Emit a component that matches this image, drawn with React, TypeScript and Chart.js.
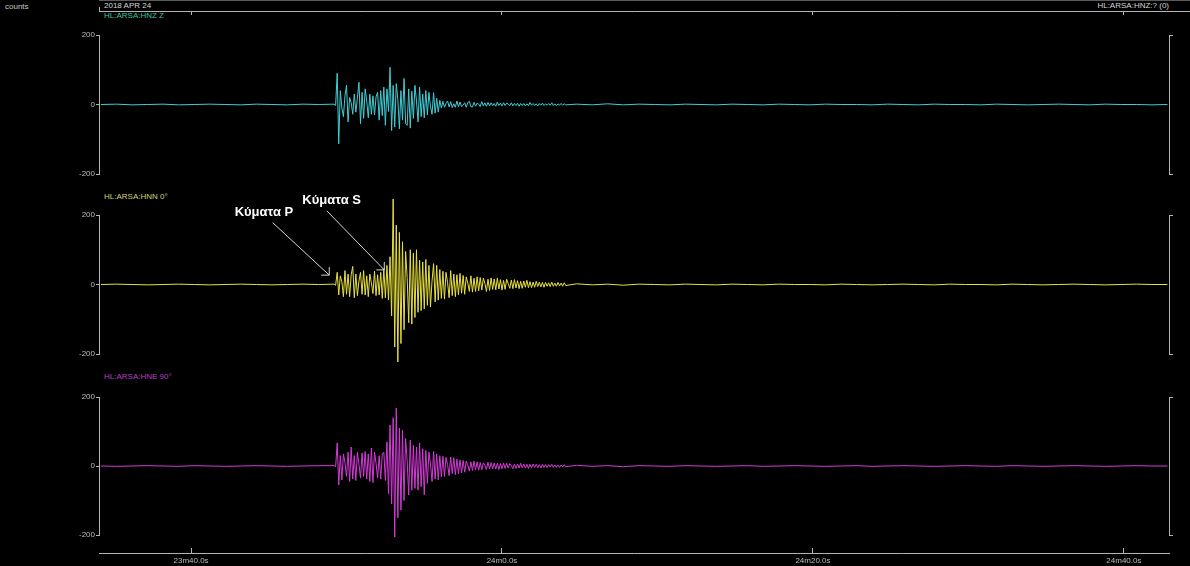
import React, { useEffect, useRef } from "react";
import { Chart, registerables } from "chart.js";

Chart.register(...registerables);

// ---- time axis (seconds after 23m00s) ----
const TIME_TICKS = [40, 60, 80, 100];
const X_MIN = 34.08;
const X_MAX = 102.9;

// ---- amplitude axis (counts) ----
const AMP_TICKS = [-200, 0, 200];
const BRACKET_TICKS = [-200, 200];

// ---- sampling of the hand-read traces ----
const PRE_START = 34.2;
const PRE_STEP = 1.0;
const EVENT_START = 49.2;
const EVENT_STEP = 0.1;
const POST_START = 64.8;
const POST_STEP = 1.0;

// ---- HL:ARSA:HNZ (vertical) ----
const HNZ_PRE = [0, 1, -1, 0, 1, -1, 0, 1, 0, -1, 1, 0, -1, 1, 0];
const HNZ_EVENT = [
  1, -3, 90, -113, 40, -10, -35, 25, 55, -50,
  20, 5, -28, 30, -22, 18, 64, -55, 35, -40,
  45, 10, -38, 30, -28, 25, -30, 22, 35, -45,
  40, -32, 50, -60, 45, -20, 107, -75, 55, -65,
  60, 15, -70, 40, -45, 75, -55, -60, 45, -68,
  38, -40, 55, 10, -50, 50, -35, 30, -38, 40,
  -30, 35, -5, -28, 34, -25, 18, -22, 12, -10,
  9, -8, 3, 10, -7, 8, -9, 2, -8, 10,
  -6, 7, -6, -2, 5, -8, 6, 9, -6, -7,
  6, -5, 4, 1, -6, 8, -4, 5, -5, 6,
  -4, 5, -4, 3, -5, 7, -3, 4, -4, 5,
  -3, 4, 1, -3, 5, -4, 3, -3, 4, -5,
  3, -3, 3, -4, 2, -3, 6, -2, 3, -3,
  2, -4, 3, -2, 4, -3, 2, -2, 3, -2,
  5, -3, 2, -3, 2, -2, 3, -2, 2, -1,
];
const HNZ_POST = [
  1, -1, 2, -1, 1, 0, -1, 1, 0, -1, 1, 0, -1, 1, 0, -1, 1, 0, 0, -1,
  1, 0, -1, 1, 0, 0, -1, 1, 0, -1, 0, 1, 0, -1, 1, 0, 0, -1, 0,
];

// ---- HL:ARSA:HNN 0° (north) ----
const HNN_PRE = [0, 1, 0, -1, 0, 1, 0, -1, 0, 1, 0, -1, 0, 1, 0];
const HNN_EVENT = [
  1, -2, 35, -30, 25, 8, -35, 40, -28, 30,
  -35, 28, 52, -38, 30, -32, 10, 35, -28, 40,
  -30, 25, -35, 30, 5, -26, 38, -32, 28, -30,
  35, -40, 45, -38, 55, -45, 80, -90, 246, -180,
  171, -223, 150, -170, 123, -130, 95, 20, -110, 100,
  -114, 90, -95, 100, -80, 70, -75, 65, -70, 72,
  -60, 55, -65, 10, 60, -50, 55, -45, 43, -40,
  38, -42, 35, 5, -38, 40, -32, 30, -35, 28,
  -30, 32, -25, 26, -28, 22, 4, -20, 25, -22,
  18, -20, 22, -18, 20, -16, 18, 3, -20, 15,
  -17, 19, -14, 16, -15, 18, -13, 14, -16, 12,
  -14, 15, 2, -11, 13, -12, 14, -10, 11, -12,
  9, -11, 10, -8, 12, -9, 8, -9, 7, -8,
  9, -6, 7, -7, 6, -8, 6, -5, 5, -6,
  7, -5, 4, -5, 6, -4, 4, -5, 5, -3,
];
const HNN_POST = [
  2, -1, 1, -2, 1, 0, -1, 1, 0, -1, 1, 0, -1, 1, 0, 0, -1, 1, 0, -1,
  0, 1, 0, -1, 1, 0, 0, -1, 1, 0, -1, 0, 1, 0, -1, 0, 1, 0, 0,
];

// ---- HL:ARSA:HNE 90° (east) ----
const HNE_PRE = [0, -1, 0, 1, 0, -1, 1, 0, -1, 0, 1, 0, -1, 0, 1];
const HNE_EVENT = [
  1, -2, 67, -55, 30, -40, 35, 10, -30, 40,
  -45, 55, -38, 30, -42, 40, 5, -35, 38, -30,
  42, -38, 35, -45, 52, -48, 40, 8, -35, 30,
  -38, 35, 40, -42, 70, -80, 119, -110, 140, -206,
  168, -150, 110, -128, 104, -100, 80, 15, -84, 75,
  -70, 60, -65, 55, -70, 67, -60, 50, -84, 45,
  -50, 40, 6, -45, 42, -38, 35, -40, 30, -32,
  28, -30, 25, 4, -28, 26, -22, 24, -25, 20,
  -22, 18, -20, 16, -18, 14, 3, -15, 12, -13,
  14, -11, 12, -12, 10, -11, 9, 2, -10, 11,
  -9, 10, -8, 9, -9, 8, -10, 7, -8, 9,
  -7, 8, -6, 7, 1, -8, 6, -7, 6, -6,
  8, -5, 6, -6, 5, -7, 5, -5, 6, -4,
  5, -5, 4, -6, 5, -4, 4, -5, 4, -3,
  5, -4, 3, -4, 3, -4, 3, -3, 4, -2,
];
const HNE_POST = [
  2, -1, 1, -2, 1, 0, -1, 1, 0, -1, 0, 1, -1, 0, 1, 0, -1, 0, 1, -1,
  0, 1, 0, -1, 0, 1, 0, -1, 1, 0, -1, 0, 1, 0, -1, 0, 1, 0, 0,
];

// ---- annotations on the north trace (time s, counts) ----
const ARROW_TEXT = ["Κύματα P", "Κύματα S"];
const ARROW_TEXT_AT = [[44.69, 208], [49.04, 243]];
const ARROW_FROM = [[45.25, 178], [48.73, 212]];
const ARROW_TO = [[48.89, 27], [52.43, 42]];

// ---- text ----
const HEADER_LEFT = "counts";
const HEADER_DATE = "2018 APR 24";
const HEADER_RIGHT = "HL:ARSA:HNZ:? (0)";
const TRACE_NAMES = ["HL:ARSA:HNZ Z", "HL:ARSA:HNN 0°", "HL:ARSA:HNE 90°"];

const W = 1190;
const H = 566;
const AXIS = "#b4b4b4";
const TICK_TEXT = "#bdbdbd";
const FONT = '"Liberation Sans", Arial, sans-serif';

function toPoints(pre: number[], ev: number[], post: number[]) {
  const pts: { x: number; y: number }[] = [];
  pre.forEach((v, i) => pts.push({ x: PRE_START + i * PRE_STEP, y: v }));
  ev.forEach((v, i) => pts.push({ x: EVENT_START + i * EVENT_STEP, y: v }));
  post.forEach((v, i) => pts.push({ x: POST_START + i * POST_STEP, y: v }));
  return pts;
}

function fmtTime(v: number) {
  const total = 23 * 60 + v;
  const m = Math.floor(total / 60);
  const s = total - m * 60;
  return `${m}m${s.toFixed(1)}s`;
}

const arrowPlugin = {
  id: "waveArrows",
  afterDatasetsDraw(chart: any) {
    const { ctx } = chart;
    const xs = chart.scales.x;
    const ys = chart.scales.y;
    ctx.save();
    ARROW_TEXT.forEach((text, i) => {
      const fx = xs.getPixelForValue(ARROW_FROM[i][0]);
      const fy = ys.getPixelForValue(ARROW_FROM[i][1]);
      const ex = xs.getPixelForValue(ARROW_TO[i][0]);
      const ey = ys.getPixelForValue(ARROW_TO[i][1]);
      ctx.strokeStyle = "#d6d6d6";
      ctx.lineWidth = 1;
      ctx.beginPath();
      ctx.moveTo(fx, fy);
      ctx.lineTo(ex, ey);
      ctx.moveTo(ex - 8, ey);
      ctx.lineTo(ex, ey);
      ctx.lineTo(ex, ey - 8);
      ctx.stroke();
      ctx.fillStyle = "#ffffff";
      ctx.font = `bold 13px ${FONT}`;
      ctx.textAlign = "center";
      ctx.textBaseline = "middle";
      ctx.fillText(
        text,
        xs.getPixelForValue(ARROW_TEXT_AT[i][0]),
        ys.getPixelForValue(ARROW_TEXT_AT[i][1])
      );
    });
    ctx.restore();
  },
};

function makePanel(
  canvas: HTMLCanvasElement,
  points: { x: number; y: number }[],
  color: string,
  top: number,
  bottom: number,
  plugins: any[]
) {
  return new Chart(canvas, {
    type: "line",
    data: {
      datasets: [
        {
          data: points,
          borderColor: color,
          borderWidth: 1,
          pointRadius: 0,
          tension: 0,
          fill: false,
          clip: false as any,
        },
      ],
    },
    options: {
      animation: false,
      responsive: false,
      events: [],
      layout: { padding: { top, bottom: H - bottom, left: 0, right: 0 } },
      plugins: { legend: { display: false }, tooltip: { enabled: false } },
      scales: {
        x: { type: "linear", min: X_MIN, max: X_MAX, display: false },
        y: {
          position: "left",
          min: -200,
          max: 200,
          afterFit: (s: any) => {
            s.width = 99;
          },
          afterBuildTicks: (s: any) => {
            s.ticks = AMP_TICKS.map((v) => ({ value: v }));
          },
          ticks: {
            color: TICK_TEXT,
            font: { family: FONT, size: 8 },
            padding: 1,
            callback: (v: any) => String(v),
          },
          grid: { drawOnChartArea: false, color: AXIS, tickLength: 3 },
          border: { color: AXIS },
        },
        y2: {
          position: "right",
          min: -200,
          max: 200,
          afterFit: (s: any) => {
            s.width = 21;
          },
          afterBuildTicks: (s: any) => {
            s.ticks = BRACKET_TICKS.map((v) => ({ value: v }));
          },
          ticks: { display: false },
          grid: { drawOnChartArea: false, color: AXIS, tickLength: 4 },
          border: { color: AXIS },
        },
      },
    },
    plugins,
  } as any);
}

function makeFrame(canvas: HTMLCanvasElement) {
  return new Chart(canvas, {
    type: "line",
    data: { datasets: [] },
    options: {
      animation: false,
      responsive: false,
      events: [],
      layout: { padding: { top: 7, bottom: 0, left: 99, right: 21 } },
      plugins: { legend: { display: false }, tooltip: { enabled: false } },
      scales: {
        x: {
          type: "linear",
          position: "bottom",
          min: X_MIN,
          max: X_MAX,
          afterFit: (s: any) => {
            s.height = 13;
          },
          afterBuildTicks: (s: any) => {
            s.ticks = TIME_TICKS.map((v) => ({ value: v }));
          },
          ticks: {
            color: TICK_TEXT,
            font: { family: FONT, size: 8 },
            padding: 8,
            maxRotation: 0,
            autoSkip: false,
            callback: (v: any) => fmtTime(Number(v)),
          },
          grid: { drawOnChartArea: false, color: AXIS, tickLength: -5 },
          border: { color: AXIS },
        },
        xTop: {
          type: "linear",
          position: "top",
          min: X_MIN,
          max: X_MAX,
          afterFit: (s: any) => {
            s.height = 4;
          },
          afterBuildTicks: (s: any) => {
            s.ticks = TIME_TICKS.map((v) => ({ value: v }));
          },
          ticks: { display: false },
          grid: { drawOnChartArea: false, color: AXIS, tickLength: -4 },
          border: { color: AXIS },
        },
        y: { display: false, min: 0, max: 1 },
      },
    },
  } as any);
}

const textStyle = (left: number, top: number, color: string): React.CSSProperties => ({
  position: "absolute",
  left,
  top,
  fontSize: 8,
  lineHeight: "10px",
  color,
  fontFamily: FONT,
  whiteSpace: "nowrap",
});

export default function App() {
  const frameRef = useRef<HTMLCanvasElement>(null);
  const zRef = useRef<HTMLCanvasElement>(null);
  const nRef = useRef<HTMLCanvasElement>(null);
  const eRef = useRef<HTMLCanvasElement>(null);

  useEffect(() => {
    const charts = [
      makeFrame(frameRef.current!),
      makePanel(zRef.current!, toPoints(HNZ_PRE, HNZ_EVENT, HNZ_POST), "#3fcfd6", 35, 174, []),
      makePanel(nRef.current!, toPoints(HNN_PRE, HNN_EVENT, HNN_POST), "#e9e23c", 215, 354, [arrowPlugin]),
      makePanel(eRef.current!, toPoints(HNE_PRE, HNE_EVENT, HNE_POST), "#d63ad9", 397, 535, []),
    ];
    return () => charts.forEach((c) => c.destroy());
  }, []);

  const canvasStyle: React.CSSProperties = { position: "absolute", left: 0, top: 0, display: "block" };

  return (
    <div
      style={{
        position: "fixed",
        left: 0,
        top: 0,
        width: W,
        height: H,
        background: "#000",
        overflow: "hidden",
      }}
    >
      <div style={{ position: "absolute", left: 99, top: 0, width: W - 99, height: 1, background: "#5a5a5a" }} />
      <div style={{ position: "absolute", left: 1169, top: 11, width: W - 1169, height: 1, background: AXIS }} />
      <div style={{ position: "absolute", left: 99, top: 7, width: 1, height: 4, background: AXIS }} />
      <div style={textStyle(5, 2, "#c8c8c8")}>{HEADER_LEFT}</div>
      <div style={textStyle(104, 1, "#d4d4d4")}>{HEADER_DATE}</div>
      <div style={{ ...textStyle(0, 1, "#d4d4d4"), left: "auto", right: W - 1169 }}>{HEADER_RIGHT}</div>
      <div style={textStyle(104, 11, "#3fc0a6")}>{TRACE_NAMES[0]}</div>
      <div style={textStyle(104, 192, "#d2d27a")}>{TRACE_NAMES[1]}</div>
      <div style={textStyle(104, 372, "#b83ec4")}>{TRACE_NAMES[2]}</div>
      <canvas ref={frameRef} width={W} height={H} style={canvasStyle} />
      <canvas ref={zRef} width={W} height={H} style={canvasStyle} />
      <canvas ref={nRef} width={W} height={H} style={canvasStyle} />
      <canvas ref={eRef} width={W} height={H} style={canvasStyle} />
    </div>
  );
}
